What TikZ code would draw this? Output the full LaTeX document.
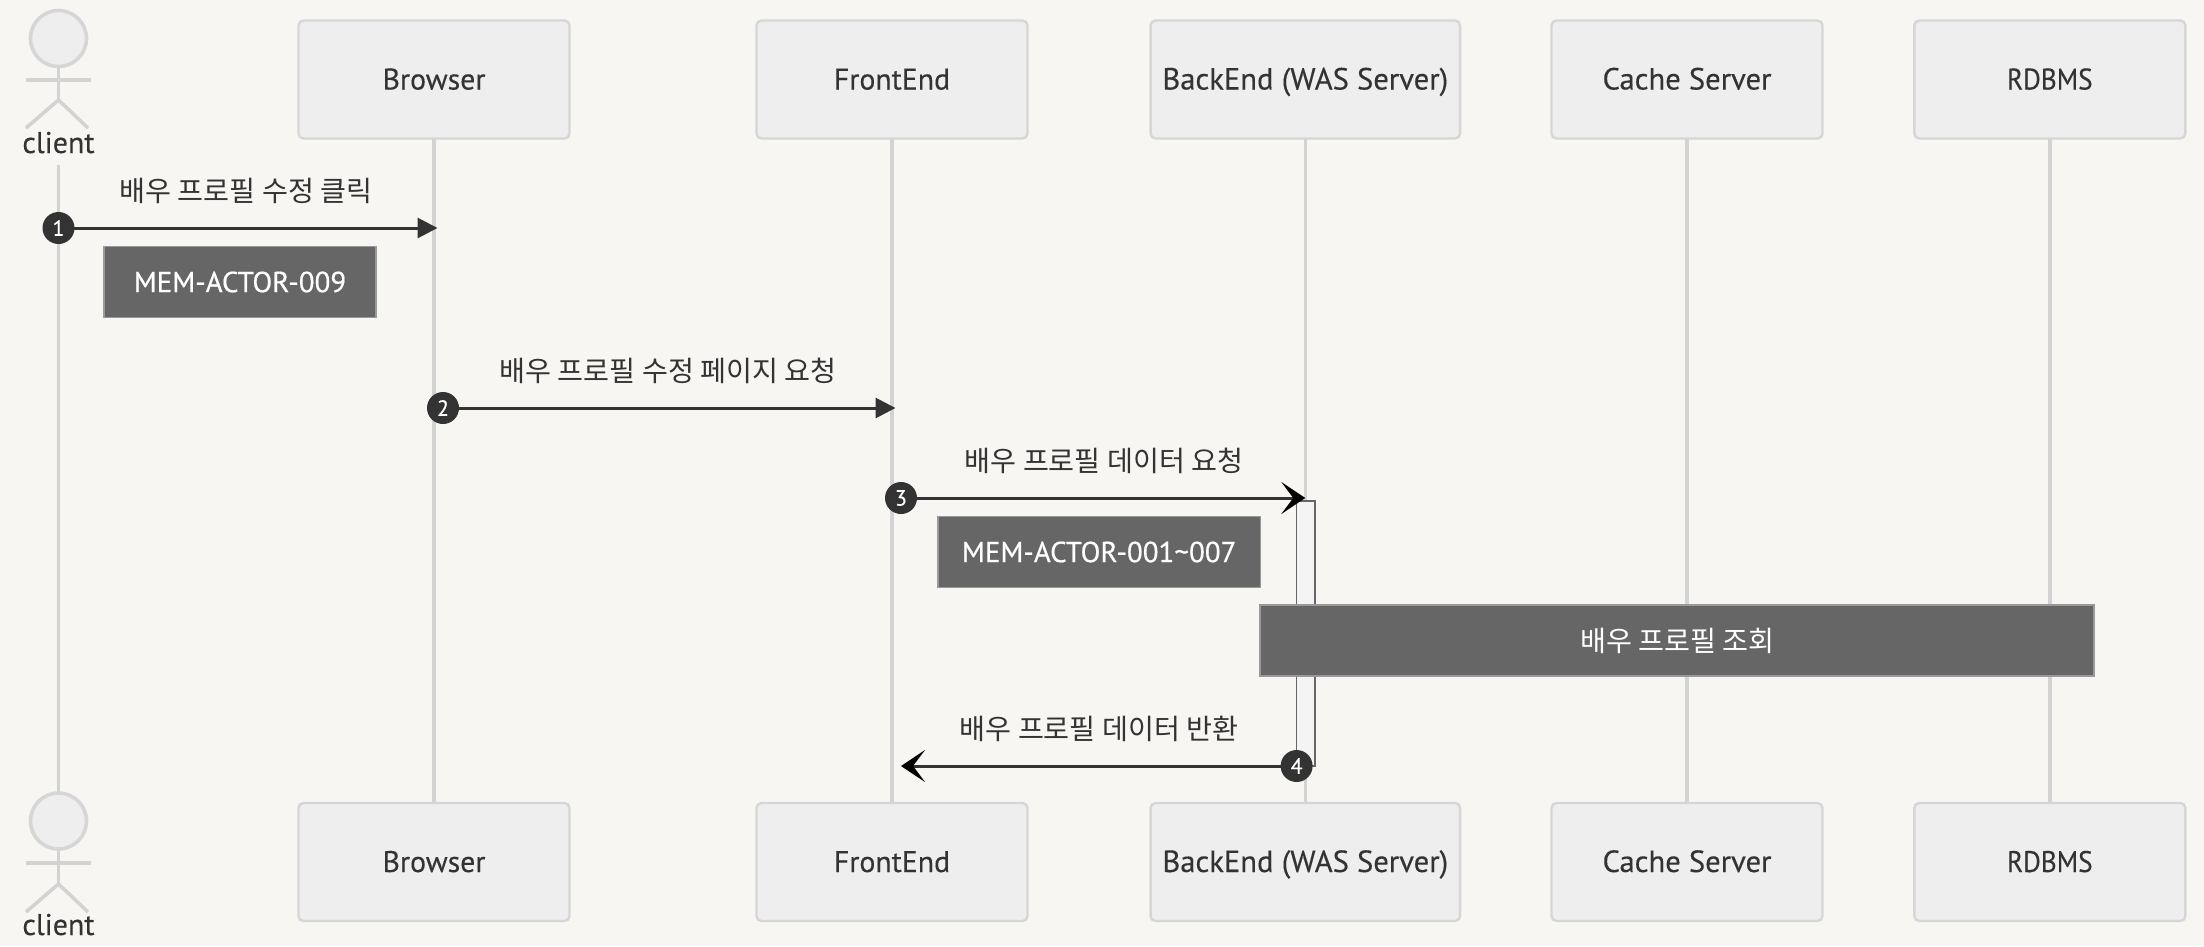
\documentclass[tikz,border=0pt]{standalone}
\usepackage{fontspec}
\usetikzlibrary{arrows.meta}
\setmainfont{PT Sans}
\newfontface\lat{PT Sans}[FakeBold=0.25]
\newfontface\latc{PT Sans}[FakeBold=0.25,FakeStretch=0.91]
\newfontface\latn{PT Sans}[FakeBold=0.5]
\newfontfamily\krfont{Noto Sans CJK KR}
\definecolor{bgc}{HTML}{F7F6F3}
\definecolor{boxfill}{HTML}{EEEEEF}
\definecolor{boxline}{HTML}{D6D6D6}
\definecolor{lifeline}{HTML}{D3D3D3}
\definecolor{ink}{HTML}{333333}
\definecolor{notefill}{HTML}{666666}
\definecolor{noteline}{HTML}{999999}
\definecolor{actfill}{HTML}{F4F4F4}
\pgfdeclarelayer{back}
\pgfdeclarelayer{mid}
\pgfsetlayers{back,mid,main}
\tikzset{
  x=1pt,y=-1pt,
  actorbox/.style={draw=boxline,line width=2.4pt,fill=boxfill,rounded corners=5pt,minimum height=118pt,inner sep=0pt,outer sep=0pt,text=ink,text height=26pt,text depth=6pt,font=\lat\fontsize{29.8}{32}\selectfont},
  widetext/.style={font=\lat\fontsize{30.6}{32}\selectfont},
  narrowtext/.style={font=\latc\fontsize{29.8}{32}\selectfont},
  lifel/.style={draw=lifeline,line width=3.6pt},
  stick/.style={draw=lifeline,line width=3.6pt,line cap=butt},
  head/.style={draw=boxline,fill=boxfill,line width=3.6pt,circle,minimum size=56pt,inner sep=0pt,outer sep=0pt},
  clientlabel/.style={text=ink,inner sep=0pt,font=\lat\fontsize{30}{32}\selectfont},
  msg/.style={text=ink,inner sep=0pt,font=\krfont\fontsize{28.2}{32}\selectfont},
  notebox/.style={draw=noteline,line width=1.8pt,fill=notefill,text=white,inner sep=0pt,outer sep=0pt,minimum height=71pt,font=\latn\fontsize{29}{32}\selectfont},
  notekr/.style={notebox,font=\krfont\fontsize{28.2}{32}\selectfont},
  seq/.style={circle,fill=ink,text=white,minimum size=32pt,inner sep=0pt,outer sep=0pt,font=\lat\fontsize{22}{24}\selectfont},
  solidarrow/.style={draw=ink,line width=3pt,-{Triangle[length=20pt,width=20pt,fill=ink]}},
  crossarrow/.style={draw=ink,line width=3pt,-{Stealth[length=24pt,width=32pt,inset=12pt,black]}},
  activation/.style={draw=notefill,line width=1.6pt,fill=actfill,inner sep=0pt,outer sep=0pt},
}
\begin{document}
\begin{tikzpicture}
\useasboundingbox (0,0) rectangle (2204,946);
\begin{pgfonlayer}{back}
\fill[bgc] (0,0) rectangle (2204,946);
\end{pgfonlayer}
% actor boxes
\node[actorbox,minimum width=271pt] (bT) at (434,79.5) {Browser};
\node[actorbox,minimum width=271pt] (fT) at (892,79.5) {FrontEnd};
\node[actorbox,widetext,minimum width=309.5pt] (wT) at (1305.3,79.5) {BackEnd (WAS Server)};
\node[actorbox,widetext,minimum width=271pt] (cT) at (1687,79.5) {Cache Server};
\node[actorbox,narrowtext,minimum width=271pt] (rT) at (2049.8,79.5) {RDBMS};
\node[actorbox,minimum width=271pt] (bB) at (434,862) {Browser};
\node[actorbox,minimum width=271pt] (fB) at (892,862) {FrontEnd};
\node[actorbox,widetext,minimum width=309.5pt] (wB) at (1305.3,862) {BackEnd (WAS Server)};
\node[actorbox,widetext,minimum width=271pt] (cB) at (1687,862) {Cache Server};
\node[actorbox,narrowtext,minimum width=271pt] (rB) at (2049.8,862) {RDBMS};
% client actors
\node[head] (h1) at (58.5,38.5) {};
\node[head] (h2) at (58.5,821) {};
\coordinate (a1l) at (26,80); \coordinate (a1r) at (91,80);
\coordinate (j1) at (58.5,100); \coordinate (l1l) at (26,128); \coordinate (l1r) at (88,128);
\coordinate (a2l) at (26,863); \coordinate (a2r) at (91,863);
\coordinate (j2) at (58.5,884); \coordinate (l2l) at (26,912); \coordinate (l2r) at (88,912);
\draw[stick] (h1.south) -- (j1); \draw[stick] (a1l) -- (a1r); \draw[stick] (l1l) -- (j1) -- (l1r);
\draw[stick] (h2.south) -- (j2); \draw[stick] (a2l) -- (a2r); \draw[stick] (l2l) -- (j2) -- (l2r);
\node[clientlabel,anchor=base] (cl1) at (58.5,153) {client};
\node[clientlabel,anchor=base] (cl2) at (58.5,935) {client};
\coordinate (cs) at (58.5,165);
% sequence markers
\node[seq] (s1) at (58.5,228) {1};
\node[seq] (s2) at (443,408) {2};
\node[seq] (s3) at (901,498) {3};
\node[seq] (s4) at (1296.6,766) {4};
\coordinate (t1) at ([xshift=3.5pt]s1 -| bT);
\coordinate (t2) at ([xshift=3.5pt]s2 -| fT);
\coordinate (t3) at (s3 -| wT);
\coordinate (t4) at (s4 -| s3);
\begin{pgfonlayer}{back}
\foreach \n in {b,f,w,c,r}{\draw[lifel] (\n T.south) -- (\n B.north);}
\draw[lifel] (cs) -- (h2.north);
\node[activation,minimum width=18.5pt,minimum height=265pt] (act) at (1305.8,633.5) {};
\end{pgfonlayer}
\begin{pgfonlayer}{mid}
\draw[solidarrow] (s1.center) -- (t1);
\draw[solidarrow] (s2.center) -- (t2);
\draw[crossarrow] (s3.center) -- (t3);
\draw[crossarrow] (s4.center) -- (t4);
\end{pgfonlayer}
% labels
\node[msg] (m1) at (246,191) {배우 프로필 수정 클릭};
\node[msg] (m2) at (668,371) {배우 프로필 수정 페이지 요청};
\node[msg] (m3) at (1104,461) {배우 프로필 데이터 요청};
\node[msg] (m4) at (1099,729) {배우 프로필 데이터 반환};
% notes
\node[notebox,minimum width=272pt] (n1) at (240,282) {MEM-ACTOR-009};
\node[notebox,minimum width=322.6pt] (n2) at (1099.2,552) {MEM-ACTOR-001\textasciitilde 007};
\node[notekr,minimum width=834pt] (n3) at (1677.3,640.5) {배우 프로필 조회};
\end{tikzpicture}
\end{document}
